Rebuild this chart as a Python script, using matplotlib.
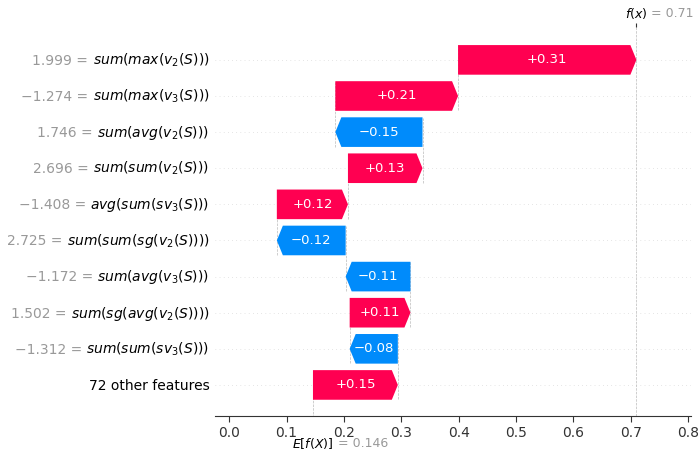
import numpy as np
import matplotlib.pyplot as plt
from matplotlib.patches import Polygon

# values, listed top row to bottom row
base_value = 0.146
feature_values = [1.999, -1.274, 1.746, 2.696, -1.408, 2.725, -1.172, 1.502, -1.312]
feature_names = [
    r"$sum(max(v_2(S)))$",
    r"$sum(max(v_3(S)))$",
    r"$sum(avg(v_2(S)))$",
    r"$sum(sum(v_2(S)))$",
    r"$avg(sum(sv_3(S)))$",
    r"$sum(sum(sg(v_2(S))))$",
    r"$sum(avg(v_3(S)))$",
    r"$sum(sg(avg(v_2(S))))$",
    r"$sum(sum(sv_3(S)))$",
]
other_label = "72 other features"
shap_values = [0.311, 0.214, -0.152, 0.13, 0.124, -0.12, -0.113, 0.106, -0.084, 0.148]
xticks = [0.0, 0.1, 0.2, 0.3, 0.4, 0.5, 0.6, 0.7, 0.8]

red = "#ff0051"
blue = "#008bfb"
gray = "#999999"


def fmt(v, f):
    return (f % v).replace("-", "\u2212")


n = len(shap_values)
fx = base_value + sum(shap_values)

fig = plt.figure(figsize=(7, 4.51), dpi=100)
ax = fig.add_axes([0.307, 0.0776, 0.68, 0.8625])
ax.set_xlim(-0.025, 0.805)
ax.set_ylim(-0.86, 9.91)

# cumulative positions bottom-up
vals_up = shap_values[::-1]
starts = base_value + np.concatenate([[0], np.cumsum(vals_up)[:-1]])
hl = 0.0105
h = 0.82

for k in range(n):
    v = vals_up[k]
    s = starts[k]
    e = s + v
    y = k
    if v > 0:
        pts = [(s, y - h/2), (e - hl, y - h/2), (e, y), (e - hl, y + h/2), (s, y + h/2)]
        col = red
    else:
        pts = [(s, y - h/2), (e + hl, y - h/2), (e, y), (e + hl, y + h/2), (s, y + h/2)]
        col = blue
    ax.add_patch(Polygon(pts, closed=True, facecolor=col, edgecolor="none", zorder=2))
    ax.text((s + e) / 2, y, fmt(v, "%+.2f"), ha="center", va="center",
            color="white", fontsize=9.5, zorder=3)
    # connector line at start of bar
    ax.plot([s, s], [y - 1 - 0.4, y + 0.4], color="#bbbbbb", linestyle="--",
            linewidth=0.5, zorder=1)
    ax.axhline(y, color="#cccccc", lw=0.5, dashes=(1, 5), zorder=0)

ax.axvline(fx, 0, 1, color="#bbbbbb", linestyle="--", linewidth=0.5, zorder=1)

# row labels: black feature name, gray value placed to its left
name_texts = []
for i, nm in enumerate(feature_names):
    y = n - 1 - i
    t = ax.annotate(nm, xy=(0, y), xycoords=("axes fraction", "data"),
                    xytext=(-4, -3.5), textcoords="offset points", ha="right", va="baseline",
                    fontsize=10, color="black")
    name_texts.append(t)
ax.annotate(other_label, xy=(0, 0), xycoords=("axes fraction", "data"),
            xytext=(-4, -3.5), textcoords="offset points", ha="right", va="baseline",
            fontsize=10, color="black")

fig.canvas.draw()
renderer = fig.canvas.get_renderer()
for i, t in enumerate(name_texts):
    bb = t.get_window_extent(renderer)
    y = n - 1 - i
    ybase = ax.transData.transform((0, y))[1] - 3.5 * fig.dpi / 72
    fig.text(bb.x0 / fig.bbox.width, ybase / fig.bbox.height,
             fmt(feature_values[i], "%.3f") + " = ", ha="right", va="baseline",
             fontsize=10, color=gray)

ax.set_yticks([])
ax.set_xticks(xticks)
ax.set_xticklabels(["%.1f" % t for t in xticks])
ax.tick_params(axis="x", labelsize=10, length=4, color="#333333", labelcolor="#333333")
for sp in ["top", "left", "right"]:
    ax.spines[sp].set_visible(False)
ax.spines["bottom"].set_color("#333333")

# f(x) marker on top
ax2 = ax.twiny()
ax2.set_xlim(ax.get_xlim())
ax2.set_xticks([fx])
ax2.set_xticklabels([])
ax2.tick_params(axis="x", length=3, color="#333333")
for sp in ax2.spines.values():
    sp.set_visible(False)
ax.annotate(r"$f(x)$", xy=(fx, 1), xycoords=("data", "axes fraction"),
            xytext=(-8.2, 10), textcoords="offset points", ha="left", va="center",
            fontsize=9, color="black")
ax.annotate("= " + fmt(fx, "%.2f"), xy=(fx, 1), xycoords=("data", "axes fraction"),
            xytext=(10.5, 10), textcoords="offset points", ha="left", va="center",
            fontsize=9, color=gray)

# E[f(X)] below
ax.annotate(r"$E[f(X)]$", xy=(base_value, 0), xycoords=("data", "axes fraction"),
            xytext=(-15.1, -19.5), textcoords="offset points", ha="left", va="center",
            fontsize=9, color="black")
ax.annotate("= " + fmt(base_value, "%.3f"), xy=(base_value, 0), xycoords=("data", "axes fraction"),
            xytext=(18, -19.5), textcoords="offset points", ha="left", va="center",
            fontsize=9, color=gray)

fig.savefig("out.png", dpi=100)
